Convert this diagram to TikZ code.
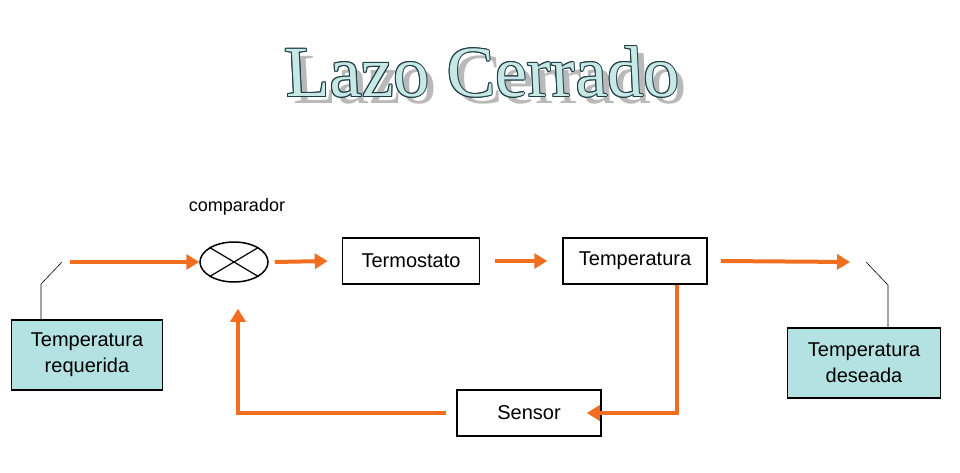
\documentclass[tikz,border=0pt]{standalone}
\usepackage{fontspec}
\setmainfont{Liberation Sans}
\newfontfamily\titlefont{Liberation Serif}
\usetikzlibrary{arrows.meta,positioning,shapes.geometric}
\definecolor{flow}{RGB}{240,110,30}
\definecolor{tealbox}{RGB}{180,225,225}
\definecolor{titlefill}{RGB}{200,232,230}
\definecolor{titleline}{RGB}{30,60,70}
\tikzset{
  block/.style={draw,line width=1.5pt,minimum height=46pt,inner sep=0pt,font=\fontsize{20}{22}\selectfont},
  goal/.style={block,fill=tealbox,align=center,font=\fontsize{20}{26}\selectfont},
  signal/.style={flow,line width=4pt,-{Triangle[length=13pt,width=15pt]}},
  lead/.style={line width=0.6pt},
  titletext/.style={font=\titlefont\fontsize{72}{72}\selectfont,xslant=-0.05}
}
\begin{document}
\begin{tikzpicture}[x=1pt,y=-1pt]
  \useasboundingbox (0,0) rectangle (960,473);
  % title
  \node[titletext,text=gray!55] (shadow) at (489,79) {Lazo Cerrado};
  \foreach \dx/\dy in {-1/0,1/0,0/-1,0/1,-0.7/-0.7,0.7/0.7,-0.7/0.7,0.7/-0.7}
    \node[titletext,text=titleline] at (482+\dx,72+\dy) {Lazo Cerrado};
  \node[titletext,text=titlefill] (title) at (482,72) {Lazo Cerrado};
  % blocks
  \node[draw,line width=1.5pt,ellipse,minimum width=68pt,minimum height=40pt,inner sep=0pt] (comp) at (234,262) {};
  \draw[line width=1.2pt] (comp.north west) -- (comp.south east) (comp.north east) -- (comp.south west);
  \node[font=\fontsize{18}{20}\selectfont] (complabel) at (237,207) {comparador};
  \node[block,minimum width=137pt] (termo) at (411,261) {Termostato};
  \node[block,minimum width=144pt] (temp) at (635,261) {Temperatura};
  \node[block,minimum width=144pt] (sensor) at (529,413) {Sensor};
  \node[goal,minimum width=151pt,minimum height=70pt] (req) at (87,355) {Temperatura\\requerida};
  \node[goal,minimum width=153pt,minimum height=70pt] (des) at (864,363) {Temperatura\\deseada};
  % free ends
  \coordinate (in) at (70,262);
  \coordinate (out) at (850,262);
  % signals
  \draw[signal] (in) -- (comp);
  \draw[signal] ([xshift=6pt]comp.east) -- ([xshift=-14pt]termo.west);
  \draw[signal] ([xshift=15pt]termo.east) -- ([xshift=-15pt]temp.west);
  \draw[signal] ([xshift=13pt]temp.east) -- (out);
  \draw[signal] ([xshift=42pt]temp.south) |- ([xshift=-15pt]sensor.east);
  \draw[signal] ([xshift=-10pt]sensor.west) -| ([xshift=4pt,yshift=-26pt]comp.south);
  % leads
  \draw[lead] ([xshift=-46pt]req.north) -- (41,284) -- (62,262);
  \draw[lead] ([xshift=24pt]des.north) -- (888,285) -- (866,262);
\end{tikzpicture}
\end{document}
